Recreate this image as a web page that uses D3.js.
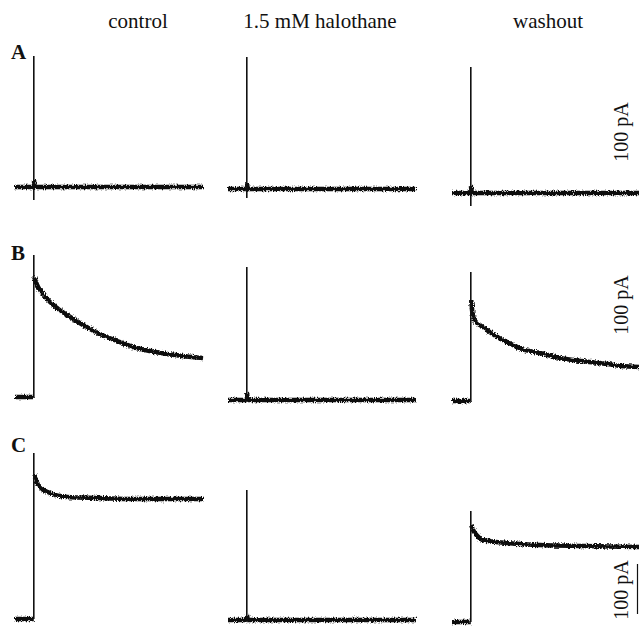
<!DOCTYPE html>
<html>
<head>
<meta charset="utf-8">
<script src="https://cdn.jsdelivr.net/npm/d3@7"></script>
<style>
body { margin: 0; background: #fff; }
svg { display: block; }
text { font-family: "Liberation Serif", "Times New Roman", serif; fill: #111; }
</style>
</head>
<body>
<div id="chart"></div>
<script>
// column titles, panel letters
var conditions = ["control", "1.5 mM halothane", "washout"];
var panels = ["A", "B", "C"];
var scaleLabel = "100 pA";

// holding current before application (pA), one value per condition
var holdingA = [6, 2, -6];
var holdingB = [4, -2, -4];
var holdingC = [2, 0, -4];

// application artifact: peak and undershoot (pA)
var artifactPeakA = [268, 266, 246];
var artifactDipA = [-20, -16, -32];
var artifactPeakB = [288, 264, 254];
var artifactPeakC = [334, 260, 218];

// responses after application, [time ms, current pA]
var respAControl = [[1, 20], [6, 6], [900, 6]];
var respAHalo = [[1, 14], [6, 2], [900, 2]];
var respAWash = [[1, 8], [6, -6], [900, -6]];

var respBControl = [[2, 244], [20, 226], [45, 212], [86, 194], [130, 180], [177, 168], [262, 148],
    [352, 130], [443, 116], [528, 104], [618, 96], [709, 90], [794, 86], [900, 82]];
var respBHalo = [[1, 12], [8, -2], [900, -2]];
var respBWash = [[2, 198], [8, 174], [20, 158], [40, 150], [65, 144], [100, 134], [150, 122], [193, 114],
    [270, 100], [368, 92], [450, 84], [544, 78], [630, 74], [724, 70], [800, 66], [895, 64]];

var respCControl = [[2, 290], [15, 276], [33, 266], [86, 254], [177, 246], [352, 244], [528, 242], [709, 242], [900, 242]];
var respCHalo = [[1, 10], [8, 0], [900, 0]];
var respCWash = [[2, 190], [12, 180], [30, 170], [65, 160], [193, 154], [368, 150], [600, 148], [895, 146]];

// sweep window (ms), application at t = 0
var timeDomain = [-100, 900];

var rows = [
    { label: panels[0], hold: holdingA, peak: artifactPeakA, dip: artifactDipA, resp: [respAControl, respAHalo, respAWash] },
    { label: panels[1], hold: holdingB, peak: artifactPeakB, dip: holdingB, resp: [respBControl, respBHalo, respBWash] },
    { label: panels[2], hold: holdingC, peak: artifactPeakC, dip: holdingC, resp: [respCControl, respCHalo, respCWash] }
];

var width = 639, height = 627;
var colX = [15, 228, 452];
var colW = 188;
var rowZero = [190, 399, 620];
var pxPer100 = 50;

var svg = d3.select('#chart')
    .append('svg')
    .attr('width', width)
    .attr('height', height);

// rough edge on the recorded traces (rendering only, data untouched)
var filter = svg.append('defs').append('filter')
    .attr('id', 'rough')
    .attr('filterUnits', 'userSpaceOnUse')
    .attr('x', 0).attr('y', 0)
    .attr('width', width).attr('height', height);
filter.append('feTurbulence')
    .attr('type', 'fractalNoise')
    .attr('baseFrequency', '0.9 0.6')
    .attr('numOctaves', 1)
    .attr('seed', 4)
    .attr('result', 'turb');
filter.append('feDisplacementMap')
    .attr('in', 'SourceGraphic')
    .attr('in2', 'turb')
    .attr('scale', 5)
    .attr('xChannelSelector', 'R')
    .attr('yChannelSelector', 'G');

var xScales = colX.map(function(x0) {
    return d3.scaleLinear().domain(timeDomain).range([x0, x0 + colW]);
});
var yScales = rowZero.map(function(y0) {
    return d3.scaleLinear().domain([0, 100]).range([y0, y0 - pxPer100]);
});

// column headers
svg.selectAll('.col-title')
    .data(conditions)
    .enter()
    .append('text')
    .attr('class', 'col-title')
    .attr('x', function(d, i) { return [138, 320, 548][i]; })
    .attr('y', 28)
    .attr('text-anchor', 'middle')
    .style('font-size', '21px')
    .text(function(d) { return d; });

rows.forEach(function(row, r) {
    var y = yScales[r];

    svg.append('text')
        .attr('x', 11)
        .attr('y', [59, 260, 452][r])
        .style('font-size', '21px')
        .style('font-weight', 'bold')
        .text(row.label);

    conditions.forEach(function(cond, c) {
        var x = xScales[c];
        var line = d3.line()
            .x(function(d) { return x(d[0]); })
            .y(function(d) { return y(d[1]); });

        var g = svg.append('g').attr('class', 'trace');

        var noisy = g.append('g').attr('filter', 'url(#rough)');

        // pre-application baseline
        noisy.append('path')
            .attr('d', line([[timeDomain[0], row.hold[c]], [0, row.hold[c]]]))
            .attr('fill', 'none')
            .attr('stroke', '#111')
            .attr('stroke-width', 4.5);

        // current response
        noisy.append('path')
            .attr('d', line.curve(d3.curveMonotoneX)(row.resp[c]))
            .attr('fill', 'none')
            .attr('stroke', '#111')
            .attr('stroke-width', 4.5);

        // application artifact (fast vertical stroke)
        g.append('path')
            .attr('d', d3.line()
                .x(function(d) { return x(d[0]); })
                .y(function(d) { return y(d[1]); })([[0, row.hold[c]], [0, row.peak[c]], [0, row.dip[c]], [0, row.resp[c][0][1]]]))
            .attr('fill', 'none')
            .attr('stroke', '#111')
            .attr('stroke-width', 1.6);
    });

    // scale label at right edge
    svg.append('text')
        .attr('transform', 'translate(628,' + [132, 305, 590][r] + ') rotate(-90)')
        .attr('text-anchor', 'middle')
        .style('font-size', '20px')
        .text(scaleLabel);
});

// 100 pA scale bar (only visible one, panel C)
svg.append('line')
    .attr('x1', 637.5).attr('x2', 637.5)
    .attr('y1', 564).attr('y2', 564 + pxPer100)
    .attr('stroke', '#111')
    .attr('stroke-width', 1.2);
</script>
</body>
</html>
